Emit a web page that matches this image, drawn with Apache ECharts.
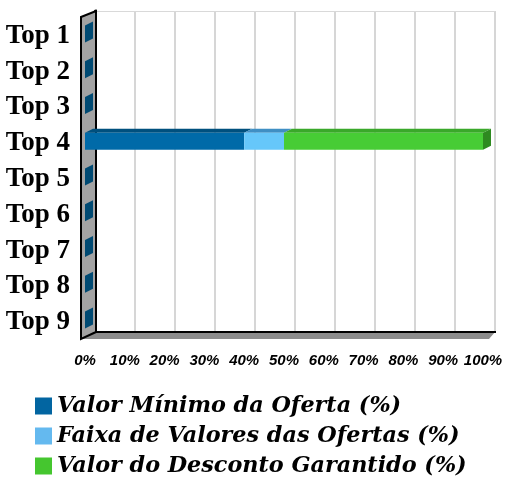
<!DOCTYPE html>
<html>
<head>
<meta charset="utf-8">
<script src="https://cdn.jsdelivr.net/npm/echarts@6/dist/echarts.min.js"></script>
<style>
  html, body { margin: 0; padding: 0; background: #ffffff; }
  #chart { width: 508px; height: 494px; }
</style>
</head>
<body>
<div id="chart"></div>
<script>
// categories and series values (%)
var categories = ['Top 1', 'Top 2', 'Top 3', 'Top 4', 'Top 5', 'Top 6', 'Top 7', 'Top 8', 'Top 9'];
var valorMinimo = [0, 0, 0, 40, 0, 0, 0, 0, 0];
var faixaValores = [0, 0, 0, 10, 0, 0, 0, 0, 0];
var descontoGarantido = [0, 0, 0, 50, 0, 0, 0, 0, 0];
var seriesNames = ['Valor Mínimo da Oferta (%)', 'Faixa de Valores das Ofertas (%)', 'Valor do Desconto Garantido (%)'];

var stacks = [valorMinimo, faixaValores, descontoGarantido];
var frontColors = ['#006aa8', '#66c7fa', '#47cc35'];
var topColors = ['#00507e', '#3f8fc4', '#3aa82a'];
var sideColors = ['#004a73', '#3d86b8', '#2e8a20'];

var chart = echarts.init(document.getElementById('chart'));

// 3D-ish stacked bar: front face, top face and end cap
function makeRender(s) {
  return function (params, api) {
    var i = params.dataIndex;
    var v = api.value(0);
    var start = 0;
    for (var k = 0; k < s; k++) start += stacks[k][i];
    var later = 0;
    for (var k2 = s + 1; k2 < stacks.length; k2++) later += stacks[k2][i];
    var p0 = api.coord([start, i]);
    var p1 = api.coord([start + v, i]);
    var h = 17, dx = 8, dy = 4;
    var yc = p0[1] - 2;
    var yt = yc - h / 2, yb = yc + h / 2;
    var children = [];
    if (v > 0) {
      children.push({
        type: 'polygon',
        shape: { points: [[p0[0], yt], [p0[0] + dx, yt - dy], [p1[0] + dx, yt - dy], [p1[0], yt]] },
        style: { fill: topColors[s] }
      });
      children.push({
        type: 'rect',
        shape: { x: p0[0], y: yt, width: p1[0] - p0[0], height: h },
        style: { fill: frontColors[s] }
      });
    }
    if (later === 0 && (v > 0 || s === 0)) {
      children.push({
        type: 'polygon',
        shape: { points: [[p1[0], yt], [p1[0] + dx, yt - dy], [p1[0] + dx, yb - dy], [p1[0], yb]] },
        style: { fill: sideColors[s] }
      });
    }
    return { type: 'group', children: children };
  };
}

var series = stacks.map(function (arr, s) {
  return {
    name: seriesNames[s],
    type: 'custom',
    xAxisIndex: 0,
    yAxisIndex: 0,
    z: 5,
    itemStyle: { color: ['#0265a1', '#64b9ef', '#45c62f'][s] },
    renderItem: makeRender(s),
    encode: { x: 0, y: 1 },
    data: categories.map(function (c, i) { return [arr[i], i]; })
  };
});

var option = {
  backgroundColor: '#ffffff',
  animation: false,
  grid: [
    { left: 85, width: 398, top: 18, bottom: 154 },
    { left: 95, width: 400, top: 11, height: 321 }
  ],
  xAxis: [
    {
      gridIndex: 0, type: 'value', min: 0, max: 100, interval: 10,
      axisLine: { show: false }, axisTick: { show: false }, splitLine: { show: false },
      axisLabel: {
        formatter: '{value}%', margin: 13, color: '#000',
        fontFamily: 'Liberation Sans', fontStyle: 'italic', fontWeight: 'bold', fontSize: 15
      }
    },
    {
      gridIndex: 1, type: 'value', min: 0, max: 100, interval: 10, position: 'top',
      axisLine: { show: true, lineStyle: { color: '#d9d9d9', width: 1 } },
      axisTick: { show: false }, axisLabel: { show: false },
      splitLine: { show: true, lineStyle: { color: '#d6d6d6', width: 2 } }
    }
  ],
  yAxis: [
    {
      gridIndex: 0, type: 'category', data: categories, inverse: true,
      axisLine: { show: false }, axisTick: { show: false },
      axisLabel: {
        margin: 15, color: '#000',
        fontFamily: 'Liberation Serif', fontWeight: 'bold', fontSize: 27
      }
    },
    {
      gridIndex: 1, type: 'category', data: categories, inverse: true, position: 'right',
      axisLine: { show: true, lineStyle: { color: '#000', width: 3 } },
      axisTick: { show: false }, axisLabel: { show: false }
    }
  ],
  legend: {
    orient: 'vertical', left: 35, top: 395, padding: 0,
    itemWidth: 17, itemHeight: 17, itemGap: 8,
    icon: 'rect',
    textStyle: {
      color: '#000', fontFamily: 'DejaVu Serif', fontWeight: 'bold', fontStyle: 'italic',
      fontSize: 22.3, lineHeight: 22
    },
    data: seriesNames
  },
  graphic: [
    // floor
    {
      type: 'polygon', z: 1,
      shape: { points: [[96, 332], [495, 332], [489, 339], [80, 339]] },
      style: { fill: '#8c8c8c', stroke: 'none' }
    },
    {
      type: 'line', z: 2,
      shape: { x1: 96, y1: 332, x2: 496, y2: 332 },
      style: { stroke: '#000', lineWidth: 2 }
    },
    // left wall
    {
      type: 'polygon', z: 2,
      shape: { points: [[81, 17], [96, 11], [96, 332], [81, 339]] },
      style: { fill: '#a3a3a3', stroke: '#000', lineWidth: 2 }
    }
  ],
  series: series
};

chart.setOption(option);
</script>
</body>
</html>
